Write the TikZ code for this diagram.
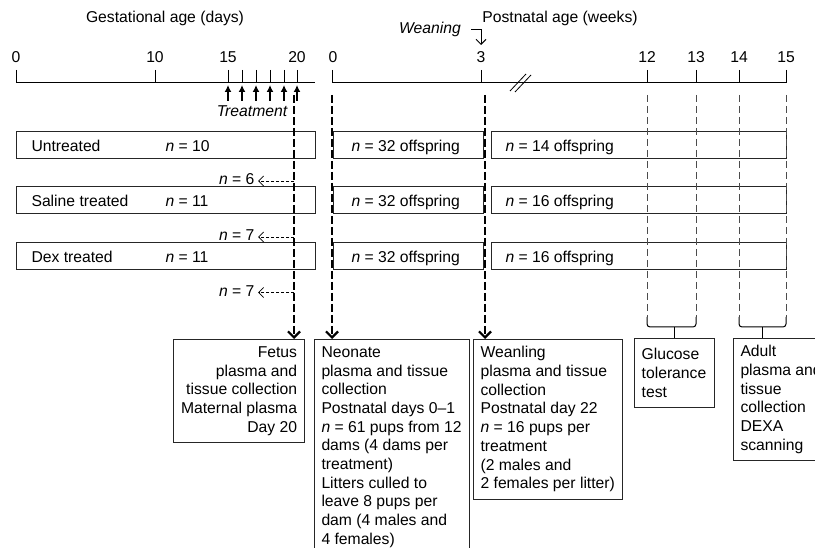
\documentclass[tikz,border=0pt]{standalone}
\usepackage{fontspec}
\setmainfont{Liberation Sans}
\usetikzlibrary{positioning,calc,arrows,arrows.meta}

\begin{document}
\begin{tikzpicture}[x=1pt, y=-1pt, font=\fontsize{15.7}{18.7}\selectfont]
	\useasboundingbox (0,0) rectangle (815,548);
	\tikzstyle{grp}=[draw=black!85, line width=1pt, inner sep=0pt, minimum height=27pt]
	\tikzstyle{info}=[draw=black!85, line width=1pt, anchor=north west, inner xsep=7.5pt, inner ysep=7pt]
	\tikzstyle{bigdash}=[line width=2.2pt, dash pattern=on 8pt off 3pt, -{Straight Barb[length=6pt, width=12pt]}]
	\tikzstyle{greydash}=[black!70, line width=0.9pt, dash pattern=on 7pt off 4pt]
	\tikzstyle{lossdash}=[line width=0.8pt, dash pattern=on 3pt off 2pt, -{Straight Barb[length=5pt, width=10pt]}]
	\tikzstyle{dose}=[line width=1.6pt, -{Latex[length=7pt, width=7pt]}]

	% axes
	\node (gest) at (165,18) {Gestational age (days)};
	\node (post) at (560,18) {Postnatal age (weeks)};
	\node (wean) at (430,29) {\itshape Weaning};
	\coordinate (hk) at (471,30);
	\coordinate (hktip) at (481,45);
	\draw [line width=1pt, -{Straight Barb[length=5pt, width=10pt]}] (hk) -| (hktip);

	\draw [line width=1pt] (16,83) -- (315,83);
	\draw [line width=1pt] (332,83) -- (786,83);
	\draw [line width=1pt] (16,70) -- (16,83);
	\draw [line width=1pt] (155,70) -- (155,83);
	\draw [line width=1pt] (228,70) -- (228,83);
	\draw [line width=1pt] (242,70) -- (242,83);
	\draw [line width=1pt] (256,70) -- (256,83);
	\draw [line width=1pt] (270,70) -- (270,83);
	\draw [line width=1pt] (284,70) -- (284,83);
	\draw [line width=1pt] (297,70) -- (297,83);
	\draw [line width=1pt] (332,70) -- (332,83);
	\draw [line width=1pt] (481,70) -- (481,83);
	\draw [line width=1pt] (647,70) -- (647,83);
	\draw [line width=1pt] (696,70) -- (696,83);
	\draw [line width=1pt] (739,70) -- (739,83);
	\draw [line width=1pt] (786,70) -- (786,83);
	\draw [line width=0.8pt] (510,91) -- (526,74);
	\draw [line width=0.8pt] (515,92) -- (531,75);

	\node (g0) at (16,57) {0};
	\node (g10) at (155,57) {10};
	\node (g15) at (228,57) {15};
	\node (g20) at (297,57) {20};
	\node (p0) at (333,57) {0};
	\node (p3) at (481,57) {3};
	\node (p12) at (647,57) {12};
	\node (p13) at (696,57) {13};
	\node (p14) at (739,57) {14};
	\node (p15) at (786,57) {15};

	% treatment
	\coordinate (t15) at (228,101);
	\coordinate (t16) at (242,101);
	\coordinate (t17) at (256,101);
	\coordinate (t18) at (270,101);
	\coordinate (t19) at (284,101);
	\coordinate (t20) at (297,101);
	\draw [dose] (t15) -- ++(0,-16);
	\draw [dose] (t16) -- ++(0,-16);
	\draw [dose] (t17) -- ++(0,-16);
	\draw [dose] (t18) -- ++(0,-16);
	\draw [dose] (t19) -- ++(0,-16);
	\draw [dose] (t20) -- ++(0,-16);
	\node (treat) at (252,111) {\itshape Treatment};

	% groups
	\node [grp, minimum width=299pt] (untbox) at (165.5,145) {};
	\node [grp, minimum width=299pt] (salbox) at (165.5,200.5) {};
	\node [grp, minimum width=299pt] (dexbox) at (165.5,256) {};
	\node [grp, minimum width=150pt] (untneo) at (408,145) {};
	\node [grp, minimum width=150pt] (salneo) at (408,200.5) {};
	\node [grp, minimum width=150pt] (dexneo) at (408,256) {};
	\node [grp, minimum width=295pt] (untad) at (638.5,145) {};
	\node [grp, minimum width=295pt] (salad) at (638.5,200.5) {};
	\node [grp, minimum width=295pt] (dexad) at (638.5,256) {};

	\node [anchor=base west] (untlab) at (28,151.5) {Untreated};
	\node [anchor=base west] (sallab) at (28,207) {Saline treated};
	\node [anchor=base west] (dexlab) at (28,263) {Dex treated};
	\node [anchor=base west] (untn) at (162,151.5) {\textit{n} = 10};
	\node [anchor=base west] (saln) at (162,207) {\textit{n} = 11};
	\node [anchor=base west] (dexn) at (162,263) {\textit{n} = 11};
	\node [anchor=base west] (untneon) at (348,151.5) {\textit{n} = 32 offspring};
	\node [anchor=base west] (salneon) at (348,207) {\textit{n} = 32 offspring};
	\node [anchor=base west] (dexneon) at (348,263) {\textit{n} = 32 offspring};
	\node [anchor=base west] (untadn) at (502,151.5) {\textit{n} = 14 offspring};
	\node [anchor=base west] (saladn) at (502,207) {\textit{n} = 16 offspring};
	\node [anchor=base west] (dexadn) at (502,263) {\textit{n} = 16 offspring};

	\node [anchor=base east] (untfet) at (258,185) {\textit{n} = 6};
	\node [anchor=base east] (salfet) at (258,241) {\textit{n} = 7};
	\node [anchor=base east] (dexfet) at (258,297) {\textit{n} = 7};
	\coordinate (l1) at (294,181);
	\coordinate (l2) at (294,237);
	\coordinate (l3) at (294,292.5);
	\draw [lossdash] (l1) -- (untfet.east |- l1);
	\draw [lossdash] (l2) -- (salfet.east |- l2);
	\draw [lossdash] (l3) -- (dexfet.east |- l3);

	% collections
	\node [info, align=right, minimum width=130pt] (fetus) at (173,339)
		{Fetus\\plasma and\\tissue collection\\Maternal plasma\\Day 20};
	\node [info, align=left, minimum width=153.5pt] (neo) at (313.5,339)
		{Neonate\\plasma and tissue\\collection\\Postnatal days 0--1\\\textit{n} = 61 pups from 12\\dams (4 dams per\\treatment)\\Litters culled to\\leave 8 pups per\\dam (4 males and\\4 females)};
	\node [info, align=left, minimum width=149.5pt] (wnl) at (472.5,339)
		{Weanling\\plasma and tissue\\collection\\Postnatal day 22\\\textit{n} = 16 pups per\\treatment\\(2 males and\\2 females per litter)};
	\node [info, align=left, minimum width=80pt, minimum height=69pt] (glu) at (633.5,338)
		{Glucose\\tolerance\\test};
	\node [info, align=left] (adult) at (732.5,338)
		{Adult\\plasma and\\tissue\\collection\\DEXA\\scanning};

	\coordinate (d20) at (294,95);
	\coordinate (d0) at (332,95);
	\coordinate (d3) at (485,95);
	\draw [bigdash] (d20) -- (d20 |- fetus.north);
	\draw [bigdash] (d0) -- (d0 |- neo.north);
	\draw [bigdash] (d3) -- (d3 |- wnl.north);

	\coordinate (g12) at (647,95);
	\coordinate (g13) at (696,95);
	\coordinate (g14) at (739,95);
	\coordinate (g15) at (786,95);
	\coordinate (b12) at (647,317);
	\coordinate (b13) at (696,317);
	\coordinate (b14) at (739,317);
	\coordinate (b15) at (786,317);
	\draw [greydash] (g12) -- (b12);
	\draw [greydash] (g13) -- (b13);
	\draw [greydash] (g14) -- (b14);
	\draw [greydash] (g15) -- (b15);
	\draw [line width=1pt, rounded corners=3pt] (b12) |- (672,327) -| (b13);
	\draw [line width=1pt, rounded corners=3pt] (b14) |- (762,327) -| (b15);
	\draw [line width=1pt] (glu.north) -- ++(0,-11);
	\draw [line width=1pt] (adult.north -| 762,0) -- ++(0,-11);
\end{tikzpicture}
\end{document}
